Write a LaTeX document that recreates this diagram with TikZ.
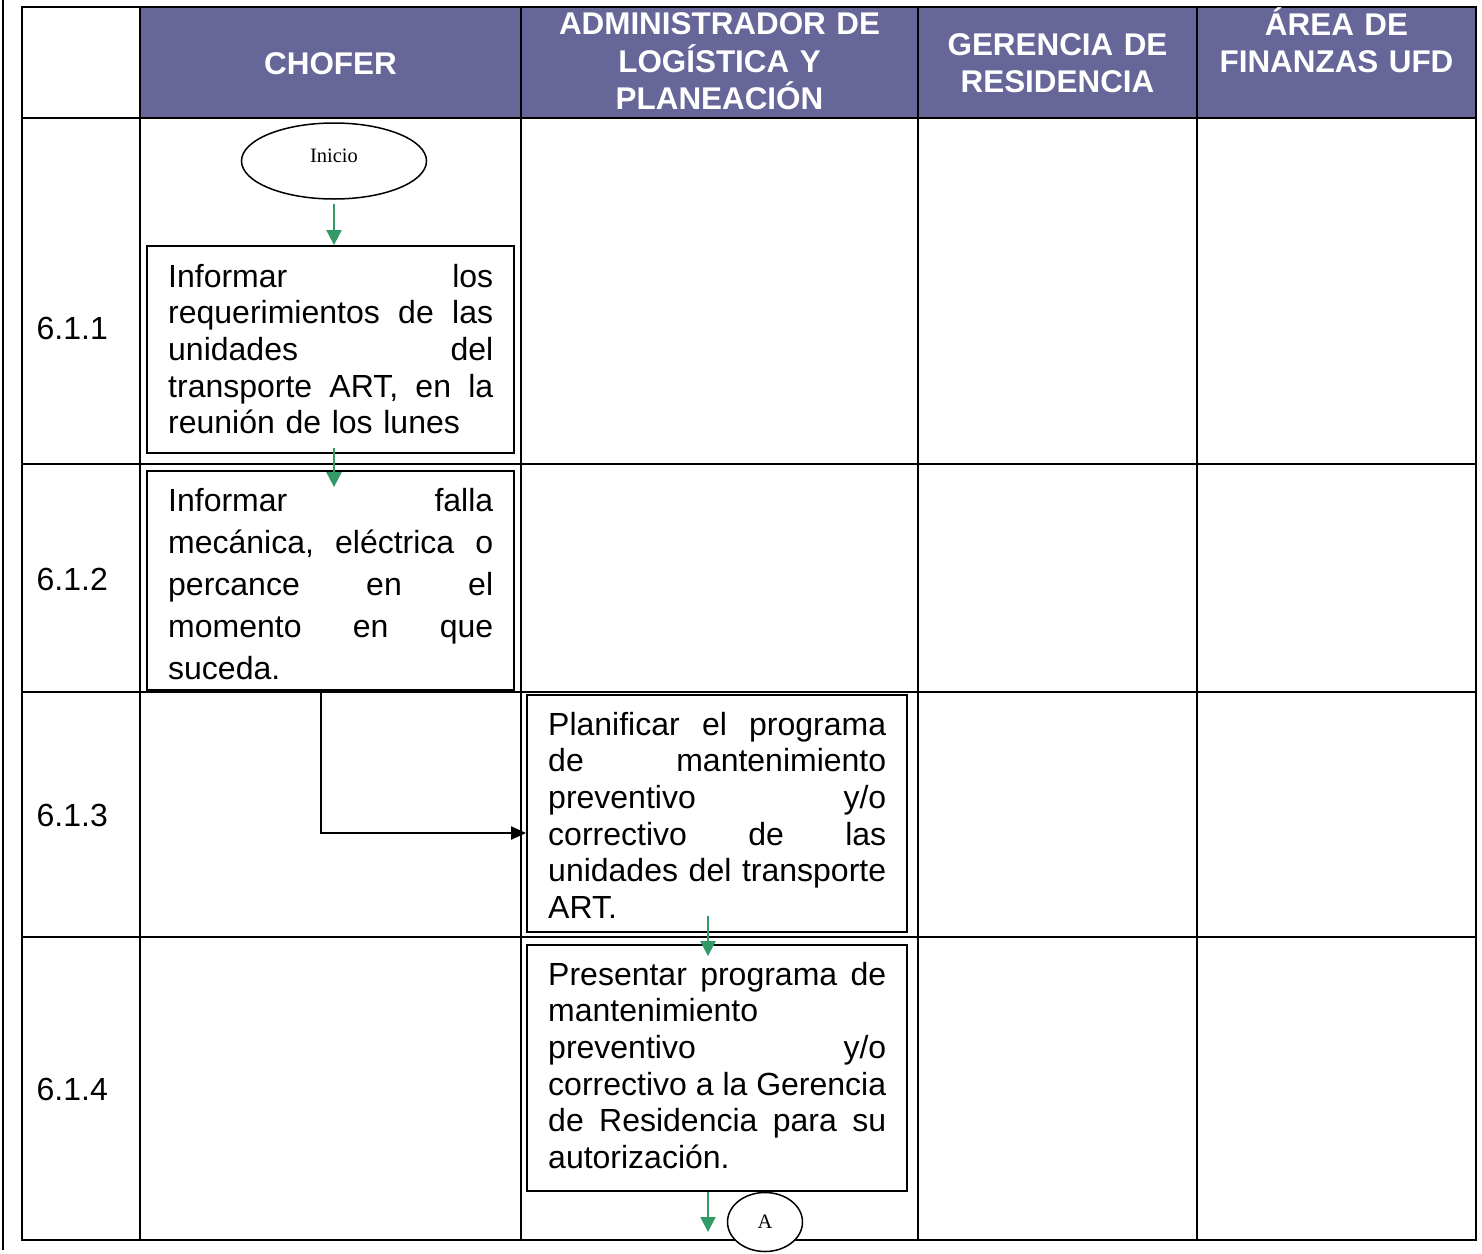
\documentclass[tikz,border=0pt]{standalone}
\usepackage{fontspec}
\setmainfont{Liberation Sans}
\newfontfamily\tnrfont{Liberation Serif}
\usetikzlibrary{arrows.meta,shapes.geometric,calc}
\definecolor{hdrcol}{RGB}{102,102,153}
\definecolor{grn}{RGB}{51,153,102}
\newcommand\bodyfnt{\fontsize{32}{36.6}\selectfont\lineskiplimit=-50pt\parindent=0pt\parskip=0pt}
\newcommand\bodyfntb{\fontsize{32}{42}\selectfont\lineskiplimit=-50pt\parindent=0pt\parskip=0pt}
\newcommand\hdrfnt{\bfseries\fontsize{31.4}{37.5}\selectfont\lineskiplimit=-50pt\parindent=0pt\parskip=0pt}
\newcommand\smfnt{\tnrfont\fontsize{20.5}{24}\selectfont}
\newcommand\myline[1]{\leavevmode\hbox to\hsize{#1}\par}
\newcommand\fst{\rule{0pt}{32pt}}
\begin{document}
\begin{tikzpicture}[x=1pt,y=-1pt,
  tline/.style={line width=1.8pt},
  pbox/.style={draw=black, line width=1.8pt, fill=white, rectangle, inner sep=0pt},
  btext/.style={font=\bodyfnt, inner sep=0pt, anchor=north west, align=left},
  btextb/.style={font=\bodyfntb, inner sep=0pt, anchor=north west, align=left},
  htext/.style={font=\hdrfnt, text=white, inner sep=0pt, anchor=north, align=left},
  rlabel/.style={font=\bodyfnt, inner sep=0pt, anchor=base west},
  oval/.style={ellipse, draw=black, line width=1.5pt, fill=white, inner sep=0pt, font=\smfnt},
  garrow/.style={draw=grn, line width=2pt, -{Triangle[length=15pt,width=15pt]}},
  barrow/.style={draw=black, line width=2pt, -{Triangle[length=15pt,width=13pt]}}]
\useasboundingbox (0,0) rectangle (1482,1253);
% page line
\draw[line width=1.5pt] (3,0) -- (3,1250);
% header fill
\fill[hdrcol] (140,7) rectangle (1476,118);
% table grid
\draw[tline] (22,7) rectangle (1476,1240);
\foreach \xx in {140,521,918,1197} \draw[tline] (\xx,7) -- (\xx,1240);
\foreach \yy in {118,464,692,937} \draw[tline] (22,\yy) -- (1476,\yy);
% headers
\node[font=\hdrfnt, text=white, inner sep=0pt, anchor=base] (hchofer) at (330.5,74) {CHOFER};
\node[htext, text width=390pt] (hadmin) at (719.5,2.5) {\myline{\hss\fst ADMINISTRADOR DE\hss}\myline{\hss LOGÍSTICA Y\hss}\myline{\hss PLANEACIÓN\hss}};
\node[htext, text width=275pt] (hger) at (1057.5,23) {\myline{\hss\fst GERENCIA DE\hss}\myline{\hss RESIDENCIA\hss}};
\node[htext, text width=275pt] (harea) at (1336.5,3) {\myline{\hss\fst ÁREA DE\hss}\myline{\hss FINANZAS UFD\hss}};
% row labels
\node[rlabel] (r1) at (36.5,339.5) {6.1.1};
\node[rlabel] (r2) at (36.5,590.5) {6.1.2};
\node[rlabel] (r3) at (36.5,826.5) {6.1.3};
\node[rlabel] (r4) at (36.5,1100.5) {6.1.4};
% start
\node[oval, minimum width=185pt, minimum height=76pt, text depth=10pt] (inicio) at (334,161) {Inicio};
% boxes
\node[pbox, minimum width=367pt, minimum height=207pt] (box1) at (330.5,349.5) {};
\node[btext, text width=325pt] (t1) at (168,255) {%
\myline{\fst Informar\hfill los}%
\myline{requerimientos\hfill de\hfill las}%
\myline{unidades\hfill del}%
\myline{transporte\hfill ART,\hfill en\hfill la}%
\myline{reunión de los lunes\hfil}};
\node[pbox, minimum width=367pt, minimum height=219pt] (box2) at (330.5,580.5) {};
\node[btextb, text width=325pt] (t2) at (168,479) {%
\myline{\fst Informar\hfill falla}%
\myline{mecánica,\hfill eléctrica\hfill o}%
\myline{percance\hfill en\hfill el}%
\myline{momento\hfill en\hfill que}%
\myline{suceda.\hfil}};
\node[pbox, minimum width=380pt, minimum height=237pt] (box3) at (717,813.5) {};
\node[btext, text width=338pt] (t3) at (548,703) {%
\myline{\fst Planificar\hfill el\hfill programa}%
\myline{de\hfill mantenimiento}%
\myline{preventivo\hfill y/o}%
\myline{correctivo\hfill de\hfill las}%
\myline{unidades\hfill del\hfill transporte}%
\myline{ART.\hfil}};
\node[pbox, minimum width=380pt, minimum height=246pt] (box4) at (717,1068) {};
\node[btext, text width=338pt] (t4) at (548,953) {%
\myline{\fst Presentar\hfill programa\hfill de}%
\myline{mantenimiento\hfil}%
\myline{preventivo\hfill y/o}%
\myline{correctivo\hfill a\hfill la\hfill Gerencia}%
\myline{de\hfill Residencia\hfill para\hfill su}%
\myline{autorización.\hfil}};
% connector A
\node[oval, minimum width=75pt, minimum height=59pt] (conA) at (765,1222) {A};
\coordinate (a4end) at (708,1232);
% arrows
\draw[garrow] ($(inicio.south)+(0,4)$) -- (inicio.south |- box1.north);
\draw[garrow] ($(inicio.south |- box1.south)+(0,-6)$) -- ($(inicio.south |- box2.north)+(0,17)$);
\draw[barrow] ($(box2.south)+(-9.5,0)$) |- ($(box3.west)+(0,19.5)$);
\draw[garrow] ($(box3.south)+(-9,-17)$) -- ($(box4.north)+(-9,12)$);
\draw[garrow] ($(box4.south)+(-9,0)$) -- (a4end);
\end{tikzpicture}
\end{document}
